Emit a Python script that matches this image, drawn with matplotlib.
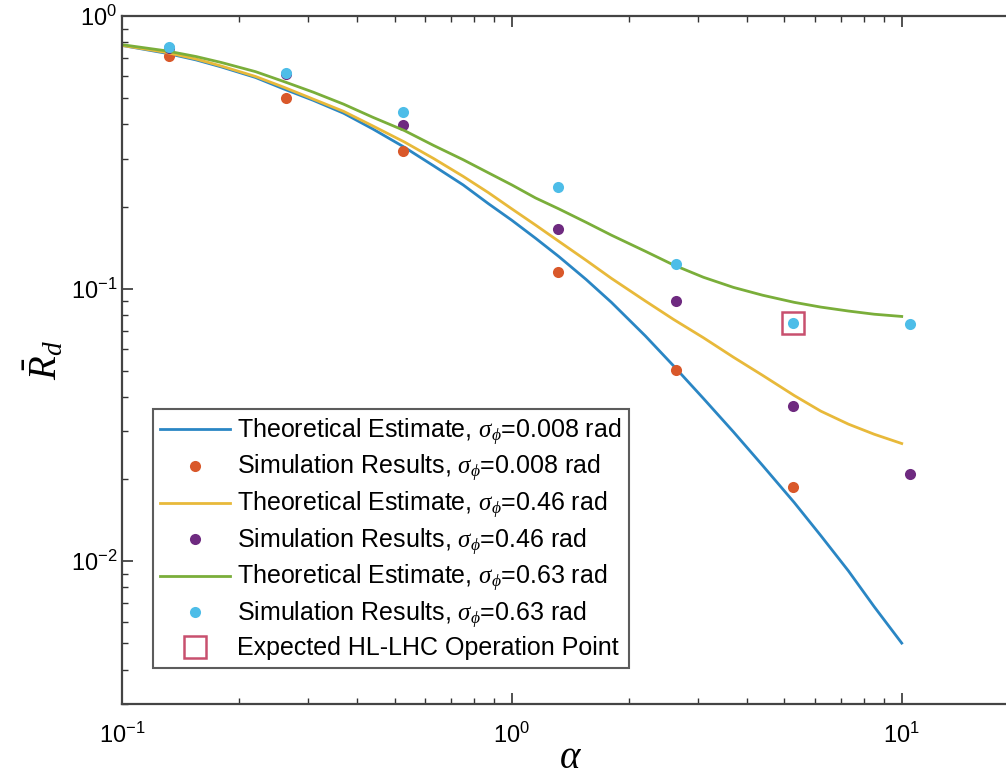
import matplotlib
matplotlib.use('Agg')
import matplotlib.pyplot as plt
import numpy as np

# simulation points (alpha) and results for the three sigma values
alphaSim = [0.1316, 0.263, 0.526, 1.316, 2.63, 5.26, 10.5]
sim008 = [0.711, 0.500, 0.321, 0.1147, 0.0501, 0.0187]
sim046 = [0.765, 0.615, 0.397, 0.165, 0.0897, 0.0370, 0.0208]
sim063 = [0.770, 0.620, 0.444, 0.235, 0.123, 0.0749, 0.0743]

# theoretical curves
alphaTheory = [0.1, 0.13, 0.155, 0.18, 0.22, 0.26, 0.31, 0.37, 0.44, 0.53, 0.63, 0.75,
               0.87, 1.0, 1.15, 1.32, 1.55, 1.8, 2.2, 2.6, 3.1, 3.7, 4.4, 5.3, 6.2,
               7.3, 8.5, 10.0]
theory008 = [0.78, 0.73, 0.69, 0.65, 0.595, 0.54, 0.49, 0.44, 0.385, 0.33, 0.282, 0.24,
             0.205, 0.178, 0.153, 0.131, 0.108, 0.089, 0.067, 0.052, 0.0395, 0.0298, 0.0224,
             0.0164, 0.0124, 0.0092, 0.0068, 0.005]
theory046 = [0.78, 0.735, 0.695, 0.655, 0.60, 0.548, 0.495, 0.447, 0.395, 0.345, 0.30, 0.258,
             0.225, 0.196, 0.171, 0.149, 0.127, 0.109, 0.090, 0.077, 0.066, 0.056, 0.048,
             0.0405, 0.0355, 0.0318, 0.0292, 0.027]
theory063 = [0.785, 0.745, 0.71, 0.675, 0.625, 0.575, 0.525, 0.475, 0.425, 0.38, 0.335, 0.297,
             0.266, 0.24, 0.215, 0.196, 0.175, 0.157, 0.137, 0.122, 0.110, 0.101, 0.0945,
             0.089, 0.0855, 0.0827, 0.0805, 0.079]

# HL-LHC operation point
opAlpha = [5.26]
opR = [0.0749]

plt.rcParams['font.family'] = ['Liberation Sans', 'DejaVu Sans']
plt.rcParams['mathtext.fontset'] = 'custom'
plt.rcParams['mathtext.rm'] = 'Liberation Sans'
plt.rcParams['mathtext.it'] = 'Liberation Serif:italic'

fig = plt.figure(figsize=(10.06, 7.82), dpi=100)
ax = fig.add_axes([0.1213, 0.1003, 0.8917, 0.8792])

blue, orange, yellow = '#2a86c4', '#d9582a', '#e8b93a'
purple, green, cyan = '#6e2a80', '#7aae3a', '#4dbde8'

ms = 8
ax.plot(alphaTheory, theory008, '-', color=blue, lw=2,
        label=r'Theoretical Estimate, $\sigma_{\phi}$=0.008 rad')
ax.plot(alphaSim[:len(sim008)], sim008, 'o', color=orange, ms=ms, mec='none',
        label=r'Simulation Results, $\sigma_{\phi}$=0.008 rad')
ax.plot(alphaTheory, theory046, '-', color=yellow, lw=2,
        label=r'Theoretical Estimate, $\sigma_{\phi}$=0.46 rad')
ax.plot(alphaSim, sim046, 'o', color=purple, ms=ms, mec='none',
        label=r'Simulation Results, $\sigma_{\phi}$=0.46 rad')
ax.plot(alphaTheory, theory063, '-', color=green, lw=2,
        label=r'Theoretical Estimate, $\sigma_{\phi}$=0.63 rad')
ax.plot(alphaSim, sim063, 'o', color=cyan, ms=ms, mec='none',
        label=r'Simulation Results, $\sigma_{\phi}$=0.63 rad')
ax.plot(opAlpha, opR, 's', mfc='none', mec='#c8506e', mew=1.8, ms=16,
        label='Expected HL-LHC Operation Point')

ax.set_xscale('log')
ax.set_yscale('log')
ax.set_xlim(0.1, 20)
ax.set_ylim(0.003, 1)

ax.tick_params(which='both', direction='in', top=True, right=True, colors='#333333',
               labelsize=17, labelcolor='black')
ax.tick_params(which='major', length=8, width=1.2)
ax.tick_params(which='minor', length=4, width=1.0)
ax.tick_params(axis='x', pad=14)
for s in ax.spines.values():
    s.set_color('#444444')
    s.set_linewidth(1.6)

ax.set_xlabel(r'$\alpha$', fontsize=28, labelpad=-6)
ax.set_ylabel(r'$\bar{R}_d$', fontsize=28, labelpad=4)

leg = ax.legend(loc='lower left', bbox_to_anchor=(0.0345, 0.052), borderaxespad=0,
                fontsize=18, frameon=True, fancybox=False, handlelength=2.8,
                handletextpad=0.28, labelspacing=0.22, borderpad=0.3)
leg.get_frame().set_edgecolor('#333333')
leg.get_frame().set_linewidth(1.5)

fig.savefig('out.png', dpi=100)
